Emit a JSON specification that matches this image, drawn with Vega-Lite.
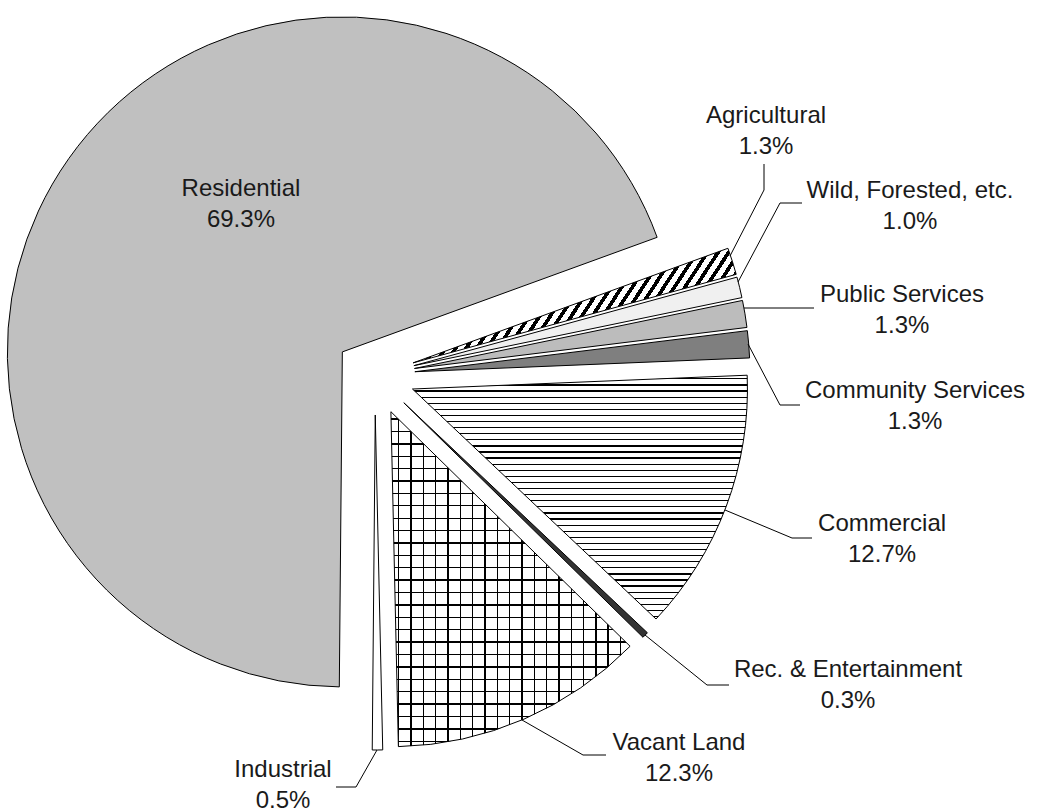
{
  "$schema": "https://vega.github.io/schema/vega-lite/v6.json",
  "width": 750,
  "height": 750,
  "padding": 0,
  "autosize": {"type": "pad"},
  "background": "#ffffff",
  "config": {"view": {"stroke": null}},
  "datasets": {
    "slices": [
      {"name": "Agricultural", "share": 0.013, "order": 1},
      {"name": "Wild, Forested, etc.", "share": 0.010, "order": 2},
      {"name": "Public Services", "share": 0.013, "order": 3},
      {"name": "Community Services", "share": 0.013, "order": 4},
      {"name": "Commercial", "share": 0.127, "order": 5},
      {"name": "Rec. & Entertainment", "share": 0.003, "order": 6},
      {"name": "Vacant Land", "share": 0.123, "order": 7},
      {"name": "Industrial", "share": 0.005, "order": 8},
      {"name": "Residential", "share": 0.693, "order": 9}
    ],
    "leaders": [
      {"name": "Agricultural", "k": 1}, {"name": "Agricultural", "k": 2}, {"name": "Agricultural", "k": 3},
      {"name": "Wild, Forested, etc.", "k": 4}, {"name": "Wild, Forested, etc.", "k": 5}, {"name": "Wild, Forested, etc.", "k": 6},
      {"name": "Public Services", "k": 7}, {"name": "Public Services", "k": 8},
      {"name": "Community Services", "k": 9}, {"name": "Community Services", "k": 10}, {"name": "Community Services", "k": 11},
      {"name": "Commercial", "k": 12}, {"name": "Commercial", "k": 13}, {"name": "Commercial", "k": 14},
      {"name": "Rec. & Entertainment", "k": 15}, {"name": "Rec. & Entertainment", "k": 16}, {"name": "Rec. & Entertainment", "k": 17},
      {"name": "Vacant Land", "k": 18}, {"name": "Vacant Land", "k": 19}, {"name": "Vacant Land", "k": 20},
      {"name": "Industrial", "k": 21}, {"name": "Industrial", "k": 22}, {"name": "Industrial", "k": 23}
    ]
  },
  "layer": [
    {
      "data": {"name": "slices"},
      "mark": {
        "type": "arc",
        "radius": 335,
        "stroke": "#000000",
        "strokeWidth": 1,
        "x": {"expr": "width/2 + 40*sin(1.22173 + PI*(datum.share_start + datum.share_end))"},
        "y": {"expr": "height/2 - 40*cos(1.22173 + PI*(datum.share_start + datum.share_end))"}
      },
      "encoding": {
        "theta": {"field": "share", "type": "quantitative", "stack": true, "scale": {"domain": [0, 1], "range": [1.22173, 7.50492], "zero": false, "nice": false}},
        "order": {"field": "order", "type": "quantitative"},
        "fill": {
          "condition": [
            {"test": "datum.name === 'Residential'", "value": "#c0c0c0"},
            {"test": "datum.name === 'Wild, Forested, etc.'", "value": "#f0f0f0"},
            {"test": "datum.name === 'Public Services'", "value": "#bcbcbc"},
            {"test": "datum.name === 'Community Services'", "value": "#7f7f7f"},
            {"test": "datum.name === 'Rec. & Entertainment'", "value": "#333333"},
            {"test": "datum.name === 'Agricultural'", "value": {
              "gradient": "linear", "x1": 0, "y1": 0, "x2": 1.168, "y2": 0.2692,
              "stops": [
                {"offset": 0, "color": "#000"}, {"offset": 0.011, "color": "#000"}, {"offset": 0.011, "color": "#fff"},
                {"offset": 0.0265, "color": "#fff"}, {"offset": 0.0265, "color": "#000"}, {"offset": 0.0375, "color": "#000"}, {"offset": 0.0375, "color": "#fff"},
                {"offset": 0.053, "color": "#fff"}, {"offset": 0.053, "color": "#000"}, {"offset": 0.064, "color": "#000"}, {"offset": 0.064, "color": "#fff"},
                {"offset": 0.0795, "color": "#fff"}, {"offset": 0.0795, "color": "#000"}, {"offset": 0.0905, "color": "#000"}, {"offset": 0.0905, "color": "#fff"},
                {"offset": 0.106, "color": "#fff"}, {"offset": 0.106, "color": "#000"}, {"offset": 0.117, "color": "#000"}, {"offset": 0.117, "color": "#fff"},
                {"offset": 0.1325, "color": "#fff"}, {"offset": 0.1325, "color": "#000"}, {"offset": 0.1435, "color": "#000"}, {"offset": 0.1435, "color": "#fff"},
                {"offset": 0.159, "color": "#fff"}, {"offset": 0.159, "color": "#000"}, {"offset": 0.17, "color": "#000"}, {"offset": 0.17, "color": "#fff"},
                {"offset": 0.1855, "color": "#fff"}, {"offset": 0.1855, "color": "#000"}, {"offset": 0.1965, "color": "#000"}, {"offset": 0.1965, "color": "#fff"},
                {"offset": 0.212, "color": "#fff"}, {"offset": 0.212, "color": "#000"}, {"offset": 0.223, "color": "#000"}, {"offset": 0.223, "color": "#fff"},
                {"offset": 0.2385, "color": "#fff"}, {"offset": 0.2385, "color": "#000"}, {"offset": 0.2495, "color": "#000"}, {"offset": 0.2495, "color": "#fff"},
                {"offset": 0.265, "color": "#fff"}, {"offset": 0.265, "color": "#000"}, {"offset": 0.276, "color": "#000"}, {"offset": 0.276, "color": "#fff"},
                {"offset": 0.2915, "color": "#fff"}, {"offset": 0.2915, "color": "#000"}, {"offset": 0.3025, "color": "#000"}, {"offset": 0.3025, "color": "#fff"},
                {"offset": 0.318, "color": "#fff"}, {"offset": 0.318, "color": "#000"}, {"offset": 0.329, "color": "#000"}, {"offset": 0.329, "color": "#fff"},
                {"offset": 0.3445, "color": "#fff"}, {"offset": 0.3445, "color": "#000"}, {"offset": 0.3555, "color": "#000"}, {"offset": 0.3555, "color": "#fff"},
                {"offset": 0.371, "color": "#fff"}, {"offset": 0.371, "color": "#000"}, {"offset": 0.382, "color": "#000"}, {"offset": 0.382, "color": "#fff"},
                {"offset": 0.3975, "color": "#fff"}, {"offset": 0.3975, "color": "#000"}, {"offset": 0.4085, "color": "#000"}, {"offset": 0.4085, "color": "#fff"},
                {"offset": 0.424, "color": "#fff"}, {"offset": 0.424, "color": "#000"}, {"offset": 0.435, "color": "#000"}, {"offset": 0.435, "color": "#fff"},
                {"offset": 0.4505, "color": "#fff"}, {"offset": 0.4505, "color": "#000"}, {"offset": 0.4615, "color": "#000"}, {"offset": 0.4615, "color": "#fff"},
                {"offset": 0.477, "color": "#fff"}, {"offset": 0.477, "color": "#000"}, {"offset": 0.488, "color": "#000"}, {"offset": 0.488, "color": "#fff"},
                {"offset": 0.5035, "color": "#fff"}, {"offset": 0.5035, "color": "#000"}, {"offset": 0.5145, "color": "#000"}, {"offset": 0.5145, "color": "#fff"},
                {"offset": 0.53, "color": "#fff"}, {"offset": 0.53, "color": "#000"}, {"offset": 0.541, "color": "#000"}, {"offset": 0.541, "color": "#fff"},
                {"offset": 0.5565, "color": "#fff"}, {"offset": 0.5565, "color": "#000"}, {"offset": 0.5675, "color": "#000"}, {"offset": 0.5675, "color": "#fff"},
                {"offset": 0.583, "color": "#fff"}, {"offset": 0.583, "color": "#000"}, {"offset": 0.594, "color": "#000"}, {"offset": 0.594, "color": "#fff"},
                {"offset": 0.6095, "color": "#fff"}, {"offset": 0.6095, "color": "#000"}, {"offset": 0.6205, "color": "#000"}, {"offset": 0.6205, "color": "#fff"},
                {"offset": 0.636, "color": "#fff"}, {"offset": 0.636, "color": "#000"}, {"offset": 0.647, "color": "#000"}, {"offset": 0.647, "color": "#fff"},
                {"offset": 0.6625, "color": "#fff"}, {"offset": 0.6625, "color": "#000"}, {"offset": 0.6735, "color": "#000"}, {"offset": 0.6735, "color": "#fff"},
                {"offset": 0.689, "color": "#fff"}, {"offset": 0.689, "color": "#000"}, {"offset": 0.7, "color": "#000"}, {"offset": 0.7, "color": "#fff"},
                {"offset": 0.7155, "color": "#fff"}, {"offset": 0.7155, "color": "#000"}, {"offset": 0.7265, "color": "#000"}, {"offset": 0.7265, "color": "#fff"},
                {"offset": 0.742, "color": "#fff"}, {"offset": 0.742, "color": "#000"}, {"offset": 0.753, "color": "#000"}, {"offset": 0.753, "color": "#fff"},
                {"offset": 0.7685, "color": "#fff"}, {"offset": 0.7685, "color": "#000"}, {"offset": 0.7795, "color": "#000"}, {"offset": 0.7795, "color": "#fff"},
                {"offset": 0.795, "color": "#fff"}, {"offset": 0.795, "color": "#000"}, {"offset": 0.806, "color": "#000"}, {"offset": 0.806, "color": "#fff"},
                {"offset": 0.8215, "color": "#fff"}, {"offset": 0.8215, "color": "#000"}, {"offset": 0.8325, "color": "#000"}, {"offset": 0.8325, "color": "#fff"},
                {"offset": 0.848, "color": "#fff"}, {"offset": 0.848, "color": "#000"}, {"offset": 0.859, "color": "#000"}, {"offset": 0.859, "color": "#fff"},
                {"offset": 0.8745, "color": "#fff"}, {"offset": 0.8745, "color": "#000"}, {"offset": 0.8855, "color": "#000"}, {"offset": 0.8855, "color": "#fff"},
                {"offset": 0.901, "color": "#fff"}, {"offset": 0.901, "color": "#000"}, {"offset": 0.912, "color": "#000"}, {"offset": 0.912, "color": "#fff"},
                {"offset": 0.9275, "color": "#fff"}, {"offset": 0.9275, "color": "#000"}, {"offset": 0.9385, "color": "#000"}, {"offset": 0.9385, "color": "#fff"},
                {"offset": 0.954, "color": "#fff"}, {"offset": 0.954, "color": "#000"}, {"offset": 0.965, "color": "#000"}, {"offset": 0.965, "color": "#fff"},
                {"offset": 0.9805, "color": "#fff"}, {"offset": 0.9805, "color": "#000"}, {"offset": 0.9915, "color": "#000"}, {"offset": 0.9915, "color": "#fff"}
              ]
            }},
            {"test": "datum.name === 'Commercial'", "value": {
              "gradient": "linear", "x1": 0, "y1": 0, "x2": 0, "y2": 1,
              "stops": [
                {"offset": 0, "color": "#fff"},
                {"offset": 0.0125, "color": "#fff"}, {"offset": 0.0125, "color": "#000"}, {"offset": 0.0175, "color": "#000"}, {"offset": 0.0175, "color": "#fff"},
                {"offset": 0.0375, "color": "#fff"}, {"offset": 0.0375, "color": "#000"}, {"offset": 0.0425, "color": "#000"}, {"offset": 0.0425, "color": "#fff"},
                {"offset": 0.0625, "color": "#fff"}, {"offset": 0.0625, "color": "#000"}, {"offset": 0.0675, "color": "#000"}, {"offset": 0.0675, "color": "#fff"},
                {"offset": 0.0875, "color": "#fff"}, {"offset": 0.0875, "color": "#000"}, {"offset": 0.0925, "color": "#000"}, {"offset": 0.0925, "color": "#fff"},
                {"offset": 0.1125, "color": "#fff"}, {"offset": 0.1125, "color": "#000"}, {"offset": 0.1175, "color": "#000"}, {"offset": 0.1175, "color": "#fff"},
                {"offset": 0.1375, "color": "#fff"}, {"offset": 0.1375, "color": "#000"}, {"offset": 0.1425, "color": "#000"}, {"offset": 0.1425, "color": "#fff"},
                {"offset": 0.1625, "color": "#fff"}, {"offset": 0.1625, "color": "#000"}, {"offset": 0.1675, "color": "#000"}, {"offset": 0.1675, "color": "#fff"},
                {"offset": 0.1875, "color": "#fff"}, {"offset": 0.1875, "color": "#000"}, {"offset": 0.1925, "color": "#000"}, {"offset": 0.1925, "color": "#fff"},
                {"offset": 0.2125, "color": "#fff"}, {"offset": 0.2125, "color": "#000"}, {"offset": 0.2175, "color": "#000"}, {"offset": 0.2175, "color": "#fff"},
                {"offset": 0.2375, "color": "#fff"}, {"offset": 0.2375, "color": "#000"}, {"offset": 0.2425, "color": "#000"}, {"offset": 0.2425, "color": "#fff"},
                {"offset": 0.2625, "color": "#fff"}, {"offset": 0.2625, "color": "#000"}, {"offset": 0.2675, "color": "#000"}, {"offset": 0.2675, "color": "#fff"},
                {"offset": 0.2875, "color": "#fff"}, {"offset": 0.2875, "color": "#000"}, {"offset": 0.2925, "color": "#000"}, {"offset": 0.2925, "color": "#fff"},
                {"offset": 0.3125, "color": "#fff"}, {"offset": 0.3125, "color": "#000"}, {"offset": 0.3175, "color": "#000"}, {"offset": 0.3175, "color": "#fff"},
                {"offset": 0.3375, "color": "#fff"}, {"offset": 0.3375, "color": "#000"}, {"offset": 0.3425, "color": "#000"}, {"offset": 0.3425, "color": "#fff"},
                {"offset": 0.3625, "color": "#fff"}, {"offset": 0.3625, "color": "#000"}, {"offset": 0.3675, "color": "#000"}, {"offset": 0.3675, "color": "#fff"},
                {"offset": 0.3875, "color": "#fff"}, {"offset": 0.3875, "color": "#000"}, {"offset": 0.3925, "color": "#000"}, {"offset": 0.3925, "color": "#fff"},
                {"offset": 0.4125, "color": "#fff"}, {"offset": 0.4125, "color": "#000"}, {"offset": 0.4175, "color": "#000"}, {"offset": 0.4175, "color": "#fff"},
                {"offset": 0.4375, "color": "#fff"}, {"offset": 0.4375, "color": "#000"}, {"offset": 0.4425, "color": "#000"}, {"offset": 0.4425, "color": "#fff"},
                {"offset": 0.4625, "color": "#fff"}, {"offset": 0.4625, "color": "#000"}, {"offset": 0.4675, "color": "#000"}, {"offset": 0.4675, "color": "#fff"},
                {"offset": 0.4875, "color": "#fff"}, {"offset": 0.4875, "color": "#000"}, {"offset": 0.4925, "color": "#000"}, {"offset": 0.4925, "color": "#fff"},
                {"offset": 0.5125, "color": "#fff"}, {"offset": 0.5125, "color": "#000"}, {"offset": 0.5175, "color": "#000"}, {"offset": 0.5175, "color": "#fff"},
                {"offset": 0.5375, "color": "#fff"}, {"offset": 0.5375, "color": "#000"}, {"offset": 0.5425, "color": "#000"}, {"offset": 0.5425, "color": "#fff"},
                {"offset": 0.5625, "color": "#fff"}, {"offset": 0.5625, "color": "#000"}, {"offset": 0.5675, "color": "#000"}, {"offset": 0.5675, "color": "#fff"},
                {"offset": 0.5875, "color": "#fff"}, {"offset": 0.5875, "color": "#000"}, {"offset": 0.5925, "color": "#000"}, {"offset": 0.5925, "color": "#fff"},
                {"offset": 0.6125, "color": "#fff"}, {"offset": 0.6125, "color": "#000"}, {"offset": 0.6175, "color": "#000"}, {"offset": 0.6175, "color": "#fff"},
                {"offset": 0.6375, "color": "#fff"}, {"offset": 0.6375, "color": "#000"}, {"offset": 0.6425, "color": "#000"}, {"offset": 0.6425, "color": "#fff"},
                {"offset": 0.6625, "color": "#fff"}, {"offset": 0.6625, "color": "#000"}, {"offset": 0.6675, "color": "#000"}, {"offset": 0.6675, "color": "#fff"},
                {"offset": 0.6875, "color": "#fff"}, {"offset": 0.6875, "color": "#000"}, {"offset": 0.6925, "color": "#000"}, {"offset": 0.6925, "color": "#fff"},
                {"offset": 0.7125, "color": "#fff"}, {"offset": 0.7125, "color": "#000"}, {"offset": 0.7175, "color": "#000"}, {"offset": 0.7175, "color": "#fff"},
                {"offset": 0.7375, "color": "#fff"}, {"offset": 0.7375, "color": "#000"}, {"offset": 0.7425, "color": "#000"}, {"offset": 0.7425, "color": "#fff"},
                {"offset": 0.7625, "color": "#fff"}, {"offset": 0.7625, "color": "#000"}, {"offset": 0.7675, "color": "#000"}, {"offset": 0.7675, "color": "#fff"},
                {"offset": 0.7875, "color": "#fff"}, {"offset": 0.7875, "color": "#000"}, {"offset": 0.7925, "color": "#000"}, {"offset": 0.7925, "color": "#fff"},
                {"offset": 0.8125, "color": "#fff"}, {"offset": 0.8125, "color": "#000"}, {"offset": 0.8175, "color": "#000"}, {"offset": 0.8175, "color": "#fff"},
                {"offset": 0.8375, "color": "#fff"}, {"offset": 0.8375, "color": "#000"}, {"offset": 0.8425, "color": "#000"}, {"offset": 0.8425, "color": "#fff"},
                {"offset": 0.8625, "color": "#fff"}, {"offset": 0.8625, "color": "#000"}, {"offset": 0.8675, "color": "#000"}, {"offset": 0.8675, "color": "#fff"},
                {"offset": 0.8875, "color": "#fff"}, {"offset": 0.8875, "color": "#000"}, {"offset": 0.8925, "color": "#000"}, {"offset": 0.8925, "color": "#fff"},
                {"offset": 0.9125, "color": "#fff"}, {"offset": 0.9125, "color": "#000"}, {"offset": 0.9175, "color": "#000"}, {"offset": 0.9175, "color": "#fff"},
                {"offset": 0.9375, "color": "#fff"}, {"offset": 0.9375, "color": "#000"}, {"offset": 0.9425, "color": "#000"}, {"offset": 0.9425, "color": "#fff"},
                {"offset": 0.9625, "color": "#fff"}, {"offset": 0.9625, "color": "#000"}, {"offset": 0.9675, "color": "#000"}, {"offset": 0.9675, "color": "#fff"},
                {"offset": 0.9875, "color": "#fff"}, {"offset": 0.9875, "color": "#000"}, {"offset": 0.9925, "color": "#000"}, {"offset": 0.9925, "color": "#fff"}
              ]
            }},
            {"test": "datum.name === 'Vacant Land'", "value": {
              "gradient": "linear", "x1": 0, "y1": 0, "x2": 0, "y2": 1,
              "stops": [
                {"offset": 0, "color": "#fff"},
                {"offset": 0.02, "color": "#fff"}, {"offset": 0.02, "color": "#000"}, {"offset": 0.024, "color": "#000"}, {"offset": 0.024, "color": "#fff"},
                {"offset": 0.057, "color": "#fff"}, {"offset": 0.057, "color": "#000"}, {"offset": 0.061, "color": "#000"}, {"offset": 0.061, "color": "#fff"},
                {"offset": 0.094, "color": "#fff"}, {"offset": 0.094, "color": "#000"}, {"offset": 0.098, "color": "#000"}, {"offset": 0.098, "color": "#fff"},
                {"offset": 0.131, "color": "#fff"}, {"offset": 0.131, "color": "#000"}, {"offset": 0.135, "color": "#000"}, {"offset": 0.135, "color": "#fff"},
                {"offset": 0.168, "color": "#fff"}, {"offset": 0.168, "color": "#000"}, {"offset": 0.172, "color": "#000"}, {"offset": 0.172, "color": "#fff"},
                {"offset": 0.205, "color": "#fff"}, {"offset": 0.205, "color": "#000"}, {"offset": 0.209, "color": "#000"}, {"offset": 0.209, "color": "#fff"},
                {"offset": 0.242, "color": "#fff"}, {"offset": 0.242, "color": "#000"}, {"offset": 0.246, "color": "#000"}, {"offset": 0.246, "color": "#fff"},
                {"offset": 0.279, "color": "#fff"}, {"offset": 0.279, "color": "#000"}, {"offset": 0.283, "color": "#000"}, {"offset": 0.283, "color": "#fff"},
                {"offset": 0.316, "color": "#fff"}, {"offset": 0.316, "color": "#000"}, {"offset": 0.32, "color": "#000"}, {"offset": 0.32, "color": "#fff"},
                {"offset": 0.353, "color": "#fff"}, {"offset": 0.353, "color": "#000"}, {"offset": 0.357, "color": "#000"}, {"offset": 0.357, "color": "#fff"},
                {"offset": 0.39, "color": "#fff"}, {"offset": 0.39, "color": "#000"}, {"offset": 0.394, "color": "#000"}, {"offset": 0.394, "color": "#fff"},
                {"offset": 0.427, "color": "#fff"}, {"offset": 0.427, "color": "#000"}, {"offset": 0.431, "color": "#000"}, {"offset": 0.431, "color": "#fff"},
                {"offset": 0.464, "color": "#fff"}, {"offset": 0.464, "color": "#000"}, {"offset": 0.468, "color": "#000"}, {"offset": 0.468, "color": "#fff"},
                {"offset": 0.501, "color": "#fff"}, {"offset": 0.501, "color": "#000"}, {"offset": 0.505, "color": "#000"}, {"offset": 0.505, "color": "#fff"},
                {"offset": 0.538, "color": "#fff"}, {"offset": 0.538, "color": "#000"}, {"offset": 0.542, "color": "#000"}, {"offset": 0.542, "color": "#fff"},
                {"offset": 0.575, "color": "#fff"}, {"offset": 0.575, "color": "#000"}, {"offset": 0.579, "color": "#000"}, {"offset": 0.579, "color": "#fff"},
                {"offset": 0.612, "color": "#fff"}, {"offset": 0.612, "color": "#000"}, {"offset": 0.616, "color": "#000"}, {"offset": 0.616, "color": "#fff"},
                {"offset": 0.649, "color": "#fff"}, {"offset": 0.649, "color": "#000"}, {"offset": 0.653, "color": "#000"}, {"offset": 0.653, "color": "#fff"},
                {"offset": 0.686, "color": "#fff"}, {"offset": 0.686, "color": "#000"}, {"offset": 0.69, "color": "#000"}, {"offset": 0.69, "color": "#fff"},
                {"offset": 0.723, "color": "#fff"}, {"offset": 0.723, "color": "#000"}, {"offset": 0.727, "color": "#000"}, {"offset": 0.727, "color": "#fff"},
                {"offset": 0.76, "color": "#fff"}, {"offset": 0.76, "color": "#000"}, {"offset": 0.764, "color": "#000"}, {"offset": 0.764, "color": "#fff"},
                {"offset": 0.797, "color": "#fff"}, {"offset": 0.797, "color": "#000"}, {"offset": 0.801, "color": "#000"}, {"offset": 0.801, "color": "#fff"},
                {"offset": 0.834, "color": "#fff"}, {"offset": 0.834, "color": "#000"}, {"offset": 0.838, "color": "#000"}, {"offset": 0.838, "color": "#fff"},
                {"offset": 0.871, "color": "#fff"}, {"offset": 0.871, "color": "#000"}, {"offset": 0.875, "color": "#000"}, {"offset": 0.875, "color": "#fff"},
                {"offset": 0.908, "color": "#fff"}, {"offset": 0.908, "color": "#000"}, {"offset": 0.912, "color": "#000"}, {"offset": 0.912, "color": "#fff"},
                {"offset": 0.945, "color": "#fff"}, {"offset": 0.945, "color": "#000"}, {"offset": 0.949, "color": "#000"}, {"offset": 0.949, "color": "#fff"},
                {"offset": 0.982, "color": "#fff"}, {"offset": 0.982, "color": "#000"}, {"offset": 0.986, "color": "#000"}, {"offset": 0.986, "color": "#fff"}
              ]
            }}
          ],
          "value": "#ffffff"
        }
      }
    },
    {
      "data": {"name": "slices"},
      "mark": {
        "type": "arc",
        "radius": 335,
        "strokeWidth": 0,
        "x": {"expr": "width/2 + 40*sin(1.22173 + PI*(datum.share_start + datum.share_end))"},
        "y": {"expr": "height/2 - 40*cos(1.22173 + PI*(datum.share_start + datum.share_end))"}
      },
      "encoding": {
        "theta": {"field": "share", "type": "quantitative", "stack": true, "scale": {"domain": [0, 1], "range": [1.22173, 7.50492], "zero": false, "nice": false}},
        "order": {"field": "order", "type": "quantitative"},
        "fill": {
          "condition": [
            {"test": "datum.name === 'Vacant Land'", "value": {
              "gradient": "linear", "x1": 0, "y1": 0, "x2": 1, "y2": 0,
              "stops": [
                {"offset": 0, "color": "rgba(0,0,0,0)"},
                {"offset": 0.03, "color": "rgba(0,0,0,0)"}, {"offset": 0.03, "color": "#000"}, {"offset": 0.0356, "color": "#000"}, {"offset": 0.0356, "color": "rgba(0,0,0,0)"},
                {"offset": 0.0815, "color": "rgba(0,0,0,0)"}, {"offset": 0.0815, "color": "#000"}, {"offset": 0.0871, "color": "#000"}, {"offset": 0.0871, "color": "rgba(0,0,0,0)"},
                {"offset": 0.133, "color": "rgba(0,0,0,0)"}, {"offset": 0.133, "color": "#000"}, {"offset": 0.1386, "color": "#000"}, {"offset": 0.1386, "color": "rgba(0,0,0,0)"},
                {"offset": 0.1845, "color": "rgba(0,0,0,0)"}, {"offset": 0.1845, "color": "#000"}, {"offset": 0.1901, "color": "#000"}, {"offset": 0.1901, "color": "rgba(0,0,0,0)"},
                {"offset": 0.236, "color": "rgba(0,0,0,0)"}, {"offset": 0.236, "color": "#000"}, {"offset": 0.2416, "color": "#000"}, {"offset": 0.2416, "color": "rgba(0,0,0,0)"},
                {"offset": 0.2875, "color": "rgba(0,0,0,0)"}, {"offset": 0.2875, "color": "#000"}, {"offset": 0.2931, "color": "#000"}, {"offset": 0.2931, "color": "rgba(0,0,0,0)"},
                {"offset": 0.339, "color": "rgba(0,0,0,0)"}, {"offset": 0.339, "color": "#000"}, {"offset": 0.3446, "color": "#000"}, {"offset": 0.3446, "color": "rgba(0,0,0,0)"},
                {"offset": 0.3905, "color": "rgba(0,0,0,0)"}, {"offset": 0.3905, "color": "#000"}, {"offset": 0.3961, "color": "#000"}, {"offset": 0.3961, "color": "rgba(0,0,0,0)"},
                {"offset": 0.442, "color": "rgba(0,0,0,0)"}, {"offset": 0.442, "color": "#000"}, {"offset": 0.4476, "color": "#000"}, {"offset": 0.4476, "color": "rgba(0,0,0,0)"},
                {"offset": 0.4935, "color": "rgba(0,0,0,0)"}, {"offset": 0.4935, "color": "#000"}, {"offset": 0.4991, "color": "#000"}, {"offset": 0.4991, "color": "rgba(0,0,0,0)"},
                {"offset": 0.545, "color": "rgba(0,0,0,0)"}, {"offset": 0.545, "color": "#000"}, {"offset": 0.5506, "color": "#000"}, {"offset": 0.5506, "color": "rgba(0,0,0,0)"},
                {"offset": 0.5965, "color": "rgba(0,0,0,0)"}, {"offset": 0.5965, "color": "#000"}, {"offset": 0.6021, "color": "#000"}, {"offset": 0.6021, "color": "rgba(0,0,0,0)"},
                {"offset": 0.648, "color": "rgba(0,0,0,0)"}, {"offset": 0.648, "color": "#000"}, {"offset": 0.6536, "color": "#000"}, {"offset": 0.6536, "color": "rgba(0,0,0,0)"},
                {"offset": 0.6995, "color": "rgba(0,0,0,0)"}, {"offset": 0.6995, "color": "#000"}, {"offset": 0.7051, "color": "#000"}, {"offset": 0.7051, "color": "rgba(0,0,0,0)"},
                {"offset": 0.751, "color": "rgba(0,0,0,0)"}, {"offset": 0.751, "color": "#000"}, {"offset": 0.7566, "color": "#000"}, {"offset": 0.7566, "color": "rgba(0,0,0,0)"},
                {"offset": 0.8025, "color": "rgba(0,0,0,0)"}, {"offset": 0.8025, "color": "#000"}, {"offset": 0.8081, "color": "#000"}, {"offset": 0.8081, "color": "rgba(0,0,0,0)"},
                {"offset": 0.854, "color": "rgba(0,0,0,0)"}, {"offset": 0.854, "color": "#000"}, {"offset": 0.8596, "color": "#000"}, {"offset": 0.8596, "color": "rgba(0,0,0,0)"},
                {"offset": 0.9055, "color": "rgba(0,0,0,0)"}, {"offset": 0.9055, "color": "#000"}, {"offset": 0.9111, "color": "#000"}, {"offset": 0.9111, "color": "rgba(0,0,0,0)"},
                {"offset": 0.957, "color": "rgba(0,0,0,0)"}, {"offset": 0.957, "color": "#000"}, {"offset": 0.9626, "color": "#000"}, {"offset": 0.9626, "color": "rgba(0,0,0,0)"}
              ]
            }}
          ],
          "value": "transparent"
        }
      }
    },
    {
      "data": {"name": "leaders"},
      "mark": {"type": "line", "stroke": "#000000", "strokeWidth": 1},
      "encoding": {
        "x": {"field": "k", "type": "quantitative", "axis": null, "scale": {"type": "linear", "zero": false, "nice": false,
          "domain": [1,2,3,4,5,6,7,8,9,10,11,12,13,14,15,16,17,18,19,20,21,22,23],
          "range": [730,764,764,738,780,802,744,814,748,780,800,725,792,812,645,707,729,522,583,606,377,356,336]}},
        "y": {"field": "k", "type": "quantitative", "axis": null, "scale": {"type": "linear", "zero": false, "nice": false,
          "domain": [1,2,3,4,5,6,7,8,9,10,11,12,13,14,15,16,17,18,19,20,21,22,23],
          "range": [256,190,164,282,203,203,308,308,344,405,405,510,538,538,635,685,685,720,755,755,750,787,787]}},
        "detail": {"field": "name", "type": "nominal"},
        "order": {"field": "k", "type": "quantitative"}
      }
    },
    {
      "data": {"name": "slices"},
      "mark": {"type": "text", "font": "Liberation Sans", "fontSize": 24, "fill": "#1a1a1a", "align": "center", "baseline": "alphabetic"},
      "encoding": {
        "theta": {"field": "order", "type": "quantitative", "stack": null, "scale": {"type": "linear", "zero": false, "nice": false,
          "domain": [1,2,3,4,5,6,7,8,9],
          "range": [0.9983,1.2512,1.4331,1.6133,1.8692,2.1391,2.4604,3.3666,5.6403]}},
        "radius": {"field": "order", "type": "quantitative", "scale": {"type": "linear", "zero": false, "nice": false,
          "domain": [1,2,3,4,5,6,7,8,9],
          "range": [465.2,563.5,532.0,540.5,530.5,561.2,482.7,412.4,223.6]}},
        "text": {"field": "name", "type": "nominal"}
      }
    },
    {
      "data": {"name": "slices"},
      "mark": {"type": "text", "font": "Liberation Sans", "fontSize": 24, "fill": "#1a1a1a", "align": "center", "baseline": "alphabetic", "dy": 31},
      "encoding": {
        "theta": {"field": "order", "type": "quantitative", "stack": null, "scale": {"type": "linear", "zero": false, "nice": false,
          "domain": [1,2,3,4,5,6,7,8,9],
          "range": [0.9983,1.2512,1.4331,1.6133,1.8692,2.1391,2.4604,3.3666,5.6403]}},
        "radius": {"field": "order", "type": "quantitative", "scale": {"type": "linear", "zero": false, "nice": false,
          "domain": [1,2,3,4,5,6,7,8,9],
          "range": [465.2,563.5,532.0,540.5,530.5,561.2,482.7,412.4,223.6]}},
        "text": {"field": "share", "type": "quantitative", "format": ".1%"}
      }
    }
  ],
  "resolve": {"scale": {"theta": "independent", "radius": "independent", "x": "independent", "y": "independent"}}
}
